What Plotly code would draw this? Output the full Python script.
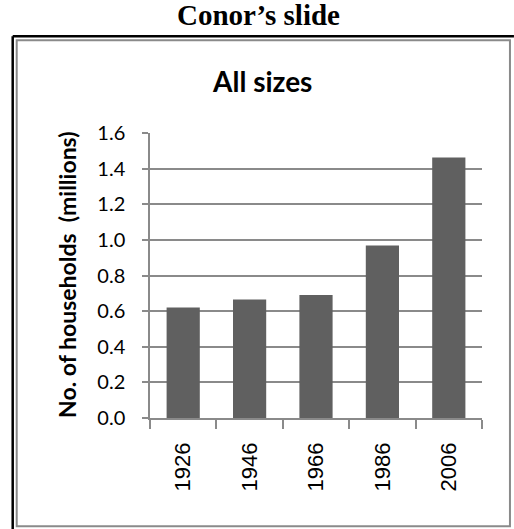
import plotly.graph_objects as go

years = ["1926", "1946", "1966", "1986", "2006"]
households_millions = [0.62, 0.665, 0.69, 0.968, 1.462]
y_ticks = [0.0, 0.2, 0.4, 0.6, 0.8, 1.0, 1.2, 1.4, 1.6]
y_tick_labels = ["0.0", "0.2", "0.4", "0.6", "0.8", "1.0", "1.2", "1.4", "1.6"]

W, H = 514, 529
L, R, T, B = 149.5, 482.0, 132.7, 417.7


def px(x):
    return (x - L) / (R - L)


def py(y):
    return (B - y) / (B - T)


GRAY = "#8a8a8a"

fig = go.Figure(
    go.Bar(
        x=years,
        y=households_millions,
        marker=dict(color="#606060", line=dict(width=0)),
    )
)

fig.update_layout(
    width=W,
    height=H,
    margin=dict(l=L, r=W - R, t=T, b=H - B, pad=0),
    paper_bgcolor="white",
    plot_bgcolor="white",
    bargap=0.5,
    showlegend=False,
    xaxis=dict(
        type="category",
        showgrid=False,
        showline=True,
        linecolor=GRAY,
        linewidth=1.5,
        ticks="outside",
        ticklen=9,
        tickwidth=1.5,
        tickcolor=GRAY,
        tickson="boundaries",
        tickangle=-90,
        tickfont=dict(family="Liberation Sans, Arial", size=22, color="black"),
        ticklabelstandoff=14,
    ),
    yaxis=dict(
        range=[0, 1.6],
        tickvals=y_ticks,
        ticktext=y_tick_labels,
        showgrid=True,
        gridcolor=GRAY,
        gridwidth=1.5,
        showline=True,
        linecolor=GRAY,
        linewidth=1.5,
        ticks="outside",
        ticklen=6,
        tickwidth=1.5,
        tickcolor=GRAY,
        zeroline=False,
        tickfont=dict(family="Lato, Carlito, Calibri", size=20, color="black"),
        ticklabelstandoff=13,
    ),
    shapes=[
        dict(type="line", xref="paper", yref="paper",
             x0=px(12), x1=px(12), y0=py(36), y1=py(529),
             line=dict(color="black", width=2.5)),
        dict(type="line", xref="paper", yref="paper",
             x0=px(12), x1=px(514), y0=py(36), y1=py(36),
             line=dict(color="black", width=2.5)),
        dict(type="rect", xref="paper", yref="paper",
             x0=px(16), x1=px(510), y0=py(40), y1=py(526),
             line=dict(color=GRAY, width=2)),
    ],
    annotations=[
        dict(text="<b>Conor\u2019s slide</b>", xref="paper", yref="paper",
             x=px(258), y=py(15), xanchor="center", yanchor="middle",
             showarrow=False,
             font=dict(family="Liberation Serif, Times New Roman", size=29, color="black")),
        dict(text="<b>All sizes</b>", xref="paper", yref="paper",
             x=px(262), y=py(81), xanchor="center", yanchor="middle",
             showarrow=False,
             font=dict(family="Lato, Carlito, Calibri", size=28, color="black")),
        dict(text="<b>No. of households  (millions)</b>", xref="paper", yref="paper",
             x=px(67), y=py(275), xanchor="center", yanchor="middle",
             textangle=-90, showarrow=False,
             font=dict(family="Lato, Carlito, Calibri", size=23, color="black")),
    ],
)

fig.write_html("out.html")
